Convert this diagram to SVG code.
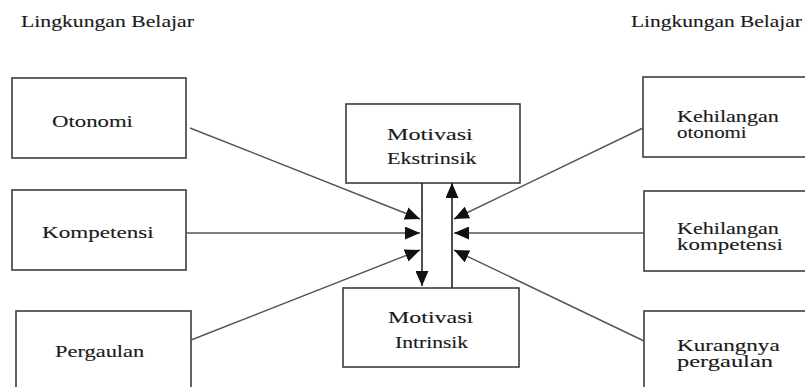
<svg xmlns="http://www.w3.org/2000/svg" width="805" height="387" viewBox="0 0 805 387">
<style>
.box{fill:#fff;stroke:#3c3c3c;stroke-width:1.6}
.t{font-family:"Liberation Serif","DejaVu Serif","Times New Roman",serif;font-size:17px;fill:#1a1a1a;stroke:#1a1a1a;stroke-width:0.12}
.c{stroke:#555;stroke-width:1.4;fill:none}
.v{stroke:#222;stroke-width:1.6;fill:none}
</style>
<defs>
<marker id="ah" markerUnits="userSpaceOnUse" markerWidth="15" markerHeight="13" refX="15" refY="6.5" orient="auto">
<path d="M0,0 L15,6.5 L0,13 z" fill="#111"/>
</marker>
</defs>
<rect width="805" height="387" fill="#fff"/>
<g id="header-left"><text class="t" transform="matrix(1.277,0,0,1,21,27)">Lingkungan Belajar</text></g>
<g id="header-right"><text class="t" transform="matrix(1.262,0,0,1,631,27)">Lingkungan Belajar</text></g>

<g id="otonomi"><rect class="box" x="12" y="78" width="174" height="80"/><text class="t" transform="matrix(1.34,0,0,1,52,127)">Otonomi</text></g>
<g id="kompetensi"><rect class="box" x="12" y="190" width="174" height="80"/><text class="t" transform="matrix(1.36,0,0,1,42,238)">Kompetensi</text></g>
<g id="pergaulan"><rect class="box" x="16" y="311" width="175" height="90"/><text class="t" transform="matrix(1.32,0,0,1,55,357)">Pergaulan</text></g>

<g id="ekstrinsik"><rect class="box" x="346" y="104" width="174" height="79"/><text class="t" transform="matrix(1.42,0,0,1,387,140)">Motivasi</text><text class="t" transform="matrix(1.30,0,0,1,387,164)">Ekstrinsik</text></g>
<g id="intrinsik"><rect class="box" x="343" y="288" width="176" height="79"/><text class="t" transform="matrix(1.41,0,0,1,388,323)">Motivasi</text><text class="t" transform="matrix(1.27,0,0,1,395,348)">Intrinsik</text></g>

<g id="kehilangan-otonomi"><rect class="box" x="643" y="77" width="175" height="80"/><text class="t" transform="matrix(1.30,0,0,1,677,122)">Kehilangan</text><text class="t" transform="matrix(1.23,0,0,1,677,138)">otonomi</text></g>
<g id="kehilangan-kompetensi"><rect class="box" x="644" y="191" width="175" height="80"/><text class="t" transform="matrix(1.30,0,0,1,677,234)">Kehilangan</text><text class="t" transform="matrix(1.35,0,0,1,677,250)">kompetensi</text></g>
<g id="kurangnya-pergaulan"><rect class="box" x="644" y="311" width="175" height="90"/><text class="t" transform="matrix(1.36,0,0,1,677,351)">Kurangnya</text><text class="t" transform="matrix(1.44,0,0,1,677,367)">pergaulan</text></g>

<g id="connectors">
<line class="c" x1="190" y1="128" x2="420" y2="219" marker-end="url(#ah)"/>
<line class="c" x1="186" y1="233" x2="420" y2="233" marker-end="url(#ah)"/>
<line class="c" x1="191" y1="340" x2="420" y2="250" marker-end="url(#ah)"/>
<line class="c" x1="643" y1="128" x2="454" y2="219" marker-end="url(#ah)"/>
<line class="c" x1="644" y1="233" x2="454" y2="233" marker-end="url(#ah)"/>
<line class="c" x1="644" y1="341" x2="454" y2="250" marker-end="url(#ah)"/>
<line class="v" x1="422" y1="183" x2="422" y2="286" marker-end="url(#ah)"/>
<line class="v" x1="452" y1="288" x2="452" y2="183" marker-end="url(#ah)"/>
</g>
</svg>
